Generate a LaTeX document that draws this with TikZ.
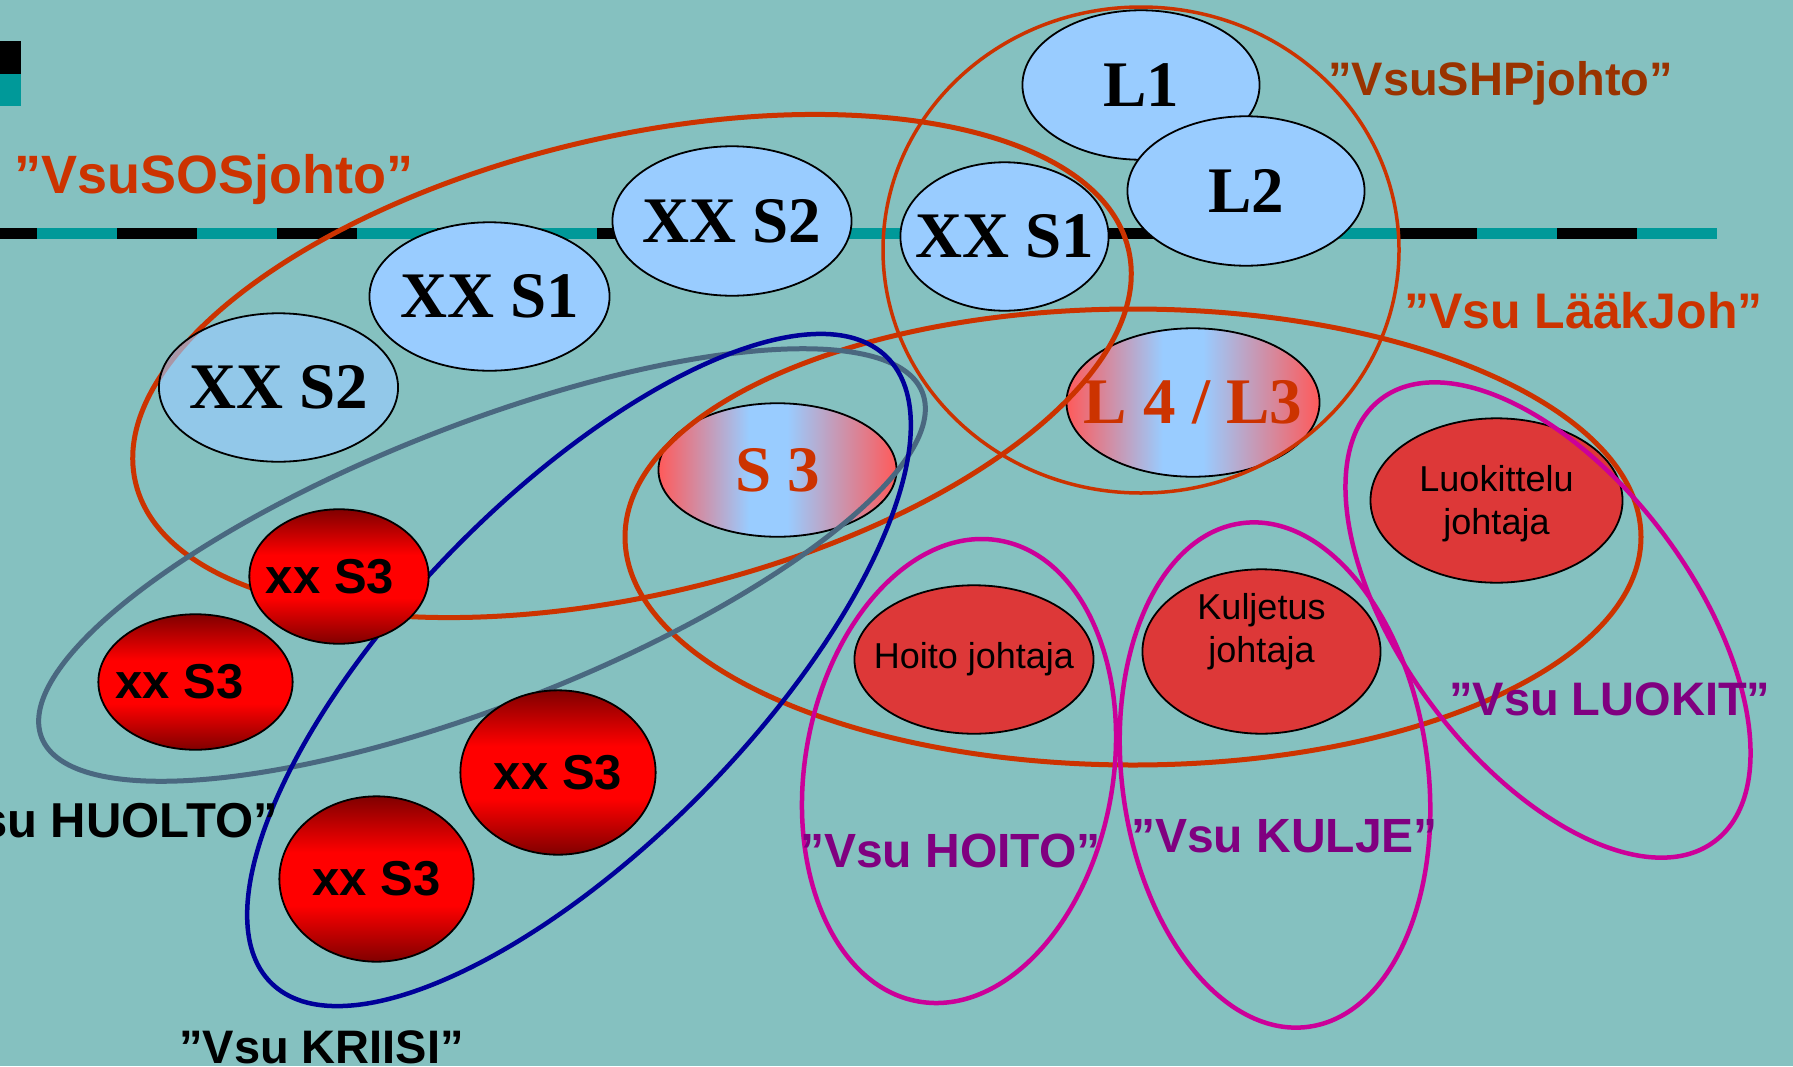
\documentclass[tikz,border=0pt]{standalone}
\usepackage{fontspec}
\setmainfont{Liberation Serif}
\setsansfont{Liberation Sans}
\usetikzlibrary{shapes.geometric}
\definecolor{bg}{RGB}{133,193,192}
\definecolor{tealdash}{RGB}{0,153,153}
\definecolor{lblue}{RGB}{153,204,255}
\definecolor{grred}{RGB}{255,90,90}
\definecolor{dred}{RGB}{128,0,0}
\definecolor{ldr}{RGB}{221,56,56}
\definecolor{oran}{RGB}{204,51,0}
\definecolor{shpc}{RGB}{153,51,0}
\definecolor{greyb}{RGB}{74,104,128}
\definecolor{kblue}{RGB}{0,0,153}
\definecolor{mag}{RGB}{204,0,153}
\definecolor{purp}{RGB}{128,0,128}
\pgfdeclarehorizontalshading{redbluered}{100bp}{color(0bp)=(grred); color(25bp)=(grred); color(44bp)=(lblue); color(52bp)=(lblue); color(75bp)=(grred); color(100bp)=(grred)}
\pgfdeclareverticalshading{darkredmid}{100bp}{color(0bp)=(dred); color(25bp)=(dred); color(42bp)=(red); color(58bp)=(red); color(75bp)=(dred); color(100bp)=(dred)}
\newcommand\labfont[1]{\fontsize{#1bp}{#1bp}\selectfont}
\begin{document}
\begin{tikzpicture}[x=1bp,y=-1bp,
  base/.style={ellipse, draw=black, line width=1.8bp, inner sep=0pt},
  bnode/.style={base, fill=lblue},
  gnode/.style={base, shading=redbluered},
  rnode/.style={base, shading=darkredmid},
  lnode/.style={base, fill=ldr},
  ttimes/.style={font={\rmfamily\bfseries\labfont{65}}, inner sep=0pt},
  tgrad/.style={ttimes, text=oran},
  tred/.style={font={\sffamily\bfseries\labfont{49}}, inner sep=0pt},
  tlead/.style={align=center, inner sep=0pt, font={\sffamily\fontsize{36bp}{43bp}\selectfont}},
  lab/.style={inner sep=0pt, font={\sffamily\bfseries\labfont{#1}}},
  grp/.style={line width=#1}
]
\useasboundingbox (0,0) rectangle (1793,1066);
\fill[bg] (0,0) rectangle (1793,1066);
% top-left marks and dashed line
\fill[black] (0,41) rectangle (21,74);
\fill[tealdash] (0,74) rectangle (21,106);
\coordinate (ls) at (0,233.5);
\coordinate (le) at (1717,233.5);
\draw[tealdash, line width=11bp] (ls) -- (le);
\draw[black, line width=11bp, dash pattern=on 80bp off 80bp, dash phase=43bp] (ls) -- (le);
% light blue nodes
\node[bnode, minimum width=238, minimum height=150, label={[ttimes]center:L1}] (L1) at (1141,85) {};
\node[bnode, minimum width=238, minimum height=150, label={[ttimes]center:L2}] (L2) at (1246,191) {};
\node[bnode, minimum width=209, minimum height=149, label={[ttimes]center:XX S1}] (XS1r) at (1004.5,236.5) {};
\node[bnode, minimum width=240, minimum height=150, label={[ttimes]center:XX S2}] (XS2m) at (732,221) {};
\node[bnode, minimum width=241, minimum height=149, label={[ttimes]center:XX S1}] (XS1l) at (489.5,296.5) {};
% gradient nodes
\node[gnode, minimum width=239, minimum height=134, label={[tgrad]center:S 3}] (S3) at (777.5,470) {};
\node[gnode, minimum width=254, minimum height=149, label={[tgrad]center:L 4 / L3}] (L43) at (1193,402.5) {};
% leader nodes
\node[lnode, minimum width=253, minimum height=165] (luok) at (1496.5,500.5) {};
\node[lnode, minimum width=239, minimum height=165] (kulj) at (1261.5,651.5) {};
\node[lnode, minimum width=240, minimum height=149] (hoito) at (974,659.5) {};
\node[tlead] (hoitot) at (974,659.5) {Hoito johtaja};
\node[tlead] (luokt) at (1496.5,504) {Luokittelu\\johtaja};
\node[tlead] (kuljt) at (1261.5,632) {Kuljetus\\johtaja};
% group outlines
\draw[oran, grp=5bp] (632,366) circle [x radius=510, y radius=229, rotate=13.2];
\draw[oran, grp=3.5bp] (1141,250) circle [x radius=258, y radius=243];
\draw[oran, grp=5bp] (1133,537) circle [x radius=508, y radius=228];
\draw[greyb, grp=5bp] (482,565) circle [x radius=473, y radius=140, rotate=21.4];
\draw[kblue, grp=4.5bp] (579,670) circle [x radius=439, y radius=174, rotate=45.5];
\draw[mag, grp=4.5bp] (959,771) circle [x radius=154, y radius=234, rotate=-10];
\draw[mag, grp=4.5bp] (1275,775) circle [x radius=153, y radius=254, rotate=7.5];
\draw[mag, grp=4.5bp] (1548,620) circle [x radius=144, y radius=277, rotate=37];
% semi-transparent left XX S2
\node[bnode, fill opacity=0.65, draw opacity=1, minimum width=240, minimum height=149] (XS2l) at (278.5,387.5) {};
\node[ttimes] (XS2lt) at (278.5,387.5) {XX S2};
% red xx S3 nodes
\node[rnode, minimum width=180, minimum height=135, label={[tred, xshift=-9bp]center:xx S3}] (x3a) at (339,576.5) {};
\node[rnode, minimum width=195, minimum height=136, label={[tred, xshift=-16bp]center:xx S3}] (x3b) at (195.5,682) {};
\node[rnode, minimum width=196, minimum height=165, label={[tred]center:xx S3}] (x3c) at (558,772.5) {};
\node[rnode, minimum width=195, minimum height=166, label={[tred]center:xx S3}] (x3d) at (376.5,879) {};
% labels
\node[lab=54, text=oran, anchor=base west] (tsos) at (14,193) {”VsuSOSjohto”};
\node[lab=47, text=shpc, anchor=base west] (tshp) at (1328,95) {”VsuSHPjohto”};
\node[lab=50, text=oran, anchor=base west] (tlaak) at (1404,328) {”Vsu LääkJoh”};
\node[lab=49, text=black, anchor=base east] (thuol) at (278,837) {”Vsu HUOLTO”};
\node[lab=47, text=black, anchor=base west] (tkrii) at (179,1063) {”Vsu KRIISI”};
\node[lab=48, text=purp, anchor=base west] (thoit) at (800,867) {”Vsu HOITO”};
\node[lab=48, text=purp, anchor=base west] (tkulj) at (1131,852) {”Vsu KULJE”};
\node[lab=47, text=purp, anchor=base west] (tluok) at (1449,715) {”Vsu LUOKIT”};
\end{tikzpicture}
\end{document}
